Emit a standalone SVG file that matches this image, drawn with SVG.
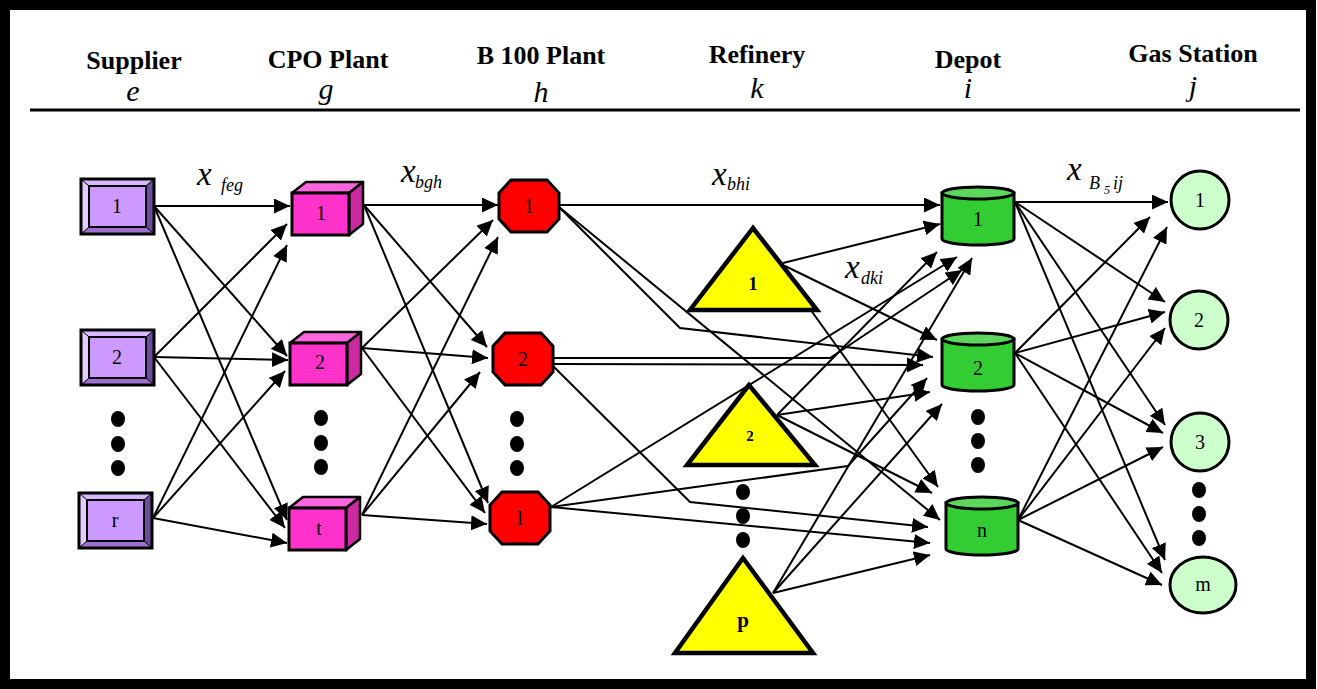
<svg xmlns="http://www.w3.org/2000/svg" width="1317" height="689" viewBox="0 0 1317 689">
  <style>
    text{font-family:"Liberation Serif","Times New Roman",Times,"DejaVu Serif",serif;fill:#000}
    .hdr{font-weight:bold;font-size:26px;text-anchor:middle}
    .idx{font-style:italic;font-size:30px;text-anchor:middle}
    .var{font-style:italic;font-size:33px}
    .sub{font-style:italic;font-size:18px}
    .sub2{font-style:italic;font-size:12px}
    .lbl{font-size:20px;text-anchor:middle}
    .blbl{font-weight:bold;font-size:18px;text-anchor:middle}
    .edge{fill:none;stroke:#000;stroke-width:2;stroke-linejoin:miter;marker-end:url(#arrow)}
    .dot{fill:#000}
    .tri{fill:#FFFF00;stroke:#000;stroke-width:4.5;stroke-linejoin:miter}
    .oct{fill:#FF0000;stroke:#000;stroke-width:3}
    .gas{fill:#CCFFCC;stroke:#000;stroke-width:3}
  </style>
  <defs>
    <marker id="arrow" markerUnits="userSpaceOnUse" markerWidth="17" markerHeight="15" refX="16" refY="7.5" orient="auto">
      <path d="M0,0 L16,7.5 L0,15 Z" fill="#000"/>
    </marker>
    <!-- bevelled supplier box, origin at outer top-left -->
    <g id="bevelBox">
      <rect x="0" y="0" width="73" height="55" fill="#6B4C9A"/>
      <polygon points="0,0 73,0 65,7 8,7" fill="#D9B8FF"/>
      <polygon points="0,0 8,7 8,48 0,55" fill="#E4CCFF"/>
      <polygon points="73,0 65,7 65,48 73,55" fill="#6B4C9A"/>
      <polygon points="0,55 8,48 65,48 73,55" fill="#9E70D2"/>
      <rect x="8" y="7" width="57" height="41" fill="#CC99FF" stroke="#000" stroke-width="2"/>
      <path d="M0,0 L8,7 M73,0 L65,7 M0,55 L8,48 M73,55 L65,48" stroke="#000" stroke-width="1"/>
      <rect x="0" y="0" width="73" height="55" fill="none" stroke="#000" stroke-width="3"/>
    </g>
    <!-- CPO plant cube, origin at front-face top-left -->
    <g id="cube">
      <polygon points="0,0 14,-11 71,-11 57,0" fill="#FF66DD" stroke="#000" stroke-width="2.5" stroke-linejoin="round"/>
      <polygon points="57,0 71,-11 71,31 57,42" fill="#CC2AA0" stroke="#000" stroke-width="2.5" stroke-linejoin="round"/>
      <rect x="0" y="0" width="57" height="42" fill="#FF33CC" stroke="#000" stroke-width="3"/>
    </g>
    <!-- B100 plant octagon, centred -->
    <polygon id="octagon" class="oct" points="-18,-26 18,-26 30,-13 30,13 18,26 -18,26 -30,13 -30,-13"/>
    <!-- depot cylinder, origin at centre of top ellipse -->
    <g id="cylinder">
      <path d="M-36,0 L-36,46 A36,6 0 0 0 36,46 L36,0 Z" fill="#33CC33" stroke="#000" stroke-width="3"/>
      <ellipse cx="0" cy="0" rx="36" ry="6" fill="#5CD65C" stroke="#000" stroke-width="3"/>
    </g>
  </defs>

  <!-- page and frame -->
  <rect x="0" y="0" width="1317" height="689" fill="#fff"/>
  <rect x="5" y="5" width="1306" height="679" fill="none" stroke="#000" stroke-width="10"/>

  <!-- column headings -->
  <g id="headings">
    <text class="hdr" x="134" y="69">Supplier</text>
    <text class="idx" x="133" y="101">e</text>
    <text class="hdr" x="328" y="68">CPO Plant</text>
    <text class="idx" x="326" y="99">g</text>
    <text class="hdr" x="541" y="64">B 100 Plant</text>
    <text class="idx" x="541" y="102">h</text>
    <text class="hdr" x="757" y="63">Refinery</text>
    <text class="idx" x="757" y="98">k</text>
    <text class="hdr" x="968" y="68">Depot</text>
    <text class="idx" x="968" y="98">i</text>
    <text class="hdr" x="1193" y="62">Gas Station</text>
    <text class="idx" x="1193" y="96">j</text>
    <line x1="30" y1="110" x2="1300" y2="110" stroke="#000" stroke-width="3"/>
  </g>

  <!-- flow arcs -->
  <g id="connectors">
    <!-- supplier to CPO plant -->
    <line class="edge" x1="154" y1="206" x2="290" y2="206"/>
    <line class="edge" x1="154" y1="206" x2="287" y2="356"/>
    <line class="edge" x1="154" y1="206" x2="287" y2="520"/>
    <line class="edge" x1="154" y1="357" x2="287" y2="224"/>
    <line class="edge" x1="154" y1="357" x2="288" y2="360"/>
    <line class="edge" x1="154" y1="357" x2="285" y2="528"/>
    <line class="edge" x1="153" y1="518" x2="287" y2="245"/>
    <line class="edge" x1="153" y1="518" x2="285" y2="371"/>
    <line class="edge" x1="153" y1="518" x2="287" y2="543"/>
    <!-- CPO plant to B100 plant -->
    <line class="edge" x1="364" y1="205" x2="498" y2="205"/>
    <line class="edge" x1="364" y1="205" x2="487" y2="347"/>
    <line class="edge" x1="364" y1="205" x2="488" y2="503"/>
    <line class="edge" x1="362" y1="348" x2="493" y2="220"/>
    <line class="edge" x1="362" y1="348" x2="488" y2="358"/>
    <line class="edge" x1="362" y1="348" x2="485" y2="513"/>
    <line class="edge" x1="362" y1="515" x2="498" y2="237"/>
    <line class="edge" x1="362" y1="515" x2="480" y2="372"/>
    <line class="edge" x1="362" y1="515" x2="487" y2="524"/>
    <!-- B100 plant to depot -->
    <line class="edge" x1="559" y1="205" x2="940" y2="205"/>
    <polyline class="edge" points="559,207 680,328 933,357"/>
    <line class="edge" x1="559" y1="207" x2="940" y2="520"/>
    <polyline class="edge" points="553,358 830,358 962,270"/>
    <line class="edge" x1="553" y1="364" x2="923" y2="365"/>
    <polyline class="edge" points="553,366 690,502 928,527"/>
    <line class="edge" x1="551" y1="507" x2="957" y2="257"/>
    <polyline class="edge" points="551,507 848,466 927,378"/>
    <line class="edge" x1="551" y1="507" x2="930" y2="543"/>
    <!-- refinery to depot -->
    <line class="edge" x1="783" y1="263" x2="940" y2="224"/>
    <line class="edge" x1="785" y1="266" x2="937" y2="340"/>
    <line class="edge" x1="805" y1="302" x2="938" y2="487"/>
    <line class="edge" x1="777" y1="415" x2="937" y2="252"/>
    <line class="edge" x1="777" y1="415" x2="930" y2="392"/>
    <line class="edge" x1="777" y1="415" x2="932" y2="493"/>
    <line class="edge" x1="773" y1="593" x2="972" y2="258"/>
    <line class="edge" x1="773" y1="593" x2="942" y2="404"/>
    <line class="edge" x1="773" y1="593" x2="930" y2="555"/>
    <!-- depot to gas station -->
    <line class="edge" x1="1015" y1="202" x2="1168" y2="202"/>
    <line class="edge" x1="1015" y1="202" x2="1165" y2="302"/>
    <line class="edge" x1="1015" y1="202" x2="1165" y2="425"/>
    <line class="edge" x1="1015" y1="202" x2="1165" y2="560"/>
    <line class="edge" x1="1015" y1="353" x2="1150" y2="217"/>
    <line class="edge" x1="1015" y1="353" x2="1165" y2="312"/>
    <line class="edge" x1="1015" y1="353" x2="1163" y2="433" stroke-width="1.5"/>
    <line class="edge" x1="1015" y1="353" x2="1162" y2="573" stroke-width="1.5"/>
    <line class="edge" x1="1018" y1="520" x2="1167" y2="227"/>
    <line class="edge" x1="1018" y1="520" x2="1165" y2="328"/>
    <line class="edge" x1="1018" y1="520" x2="1163" y2="447"/>
    <line class="edge" x1="1018" y1="520" x2="1162" y2="585"/>
  </g>

  <!-- flow variable labels -->
  <g id="flow-labels">
    <text class="var" x="197" y="185">x</text><text class="sub" x="221" y="191">feg</text>
    <text class="var" x="401" y="182">x</text><text class="sub" x="415" y="188">bgh</text>
    <text class="var" x="712" y="185">x</text><text class="sub" x="727" y="190">bhi</text>
    <text class="var" x="845" y="278">x</text><text class="sub" x="861" y="284">dki</text>
    <text class="var" x="1067" y="180">x</text><text class="sub" x="1089" y="189">B</text><text class="sub2" x="1104" y="194">5</text><text class="sub" x="1113" y="189">ij</text>
  </g>

  <!-- suppliers -->
  <g id="supplier-1"><use href="#bevelBox" x="81" y="179"/><text class="lbl" x="117" y="213">1</text></g>
  <g id="supplier-2"><use href="#bevelBox" x="81" y="330"/><text class="lbl" x="117" y="364">2</text></g>
  <g id="supplier-r"><use href="#bevelBox" x="79" y="493"/><text class="lbl" x="115" y="527">r</text></g>
  <g id="supplier-dots">
    <ellipse class="dot" cx="118" cy="419" rx="7" ry="8"/>
    <ellipse class="dot" cx="118" cy="444" rx="7" ry="8"/>
    <ellipse class="dot" cx="118" cy="468" rx="7" ry="8"/>
  </g>

  <!-- CPO plants -->
  <g id="cpo-1"><use href="#cube" x="292" y="193"/><text class="lbl" x="321" y="220">1</text></g>
  <g id="cpo-2"><use href="#cube" x="290" y="343"/><text class="lbl" x="320" y="369">2</text></g>
  <g id="cpo-t"><use href="#cube" x="289" y="508"/><text class="lbl" x="319" y="535">t</text></g>
  <g id="cpo-dots">
    <ellipse class="dot" cx="321" cy="418" rx="7" ry="8"/>
    <ellipse class="dot" cx="321" cy="443" rx="7" ry="8"/>
    <ellipse class="dot" cx="321" cy="467" rx="7" ry="8"/>
  </g>

  <!-- B100 plants -->
  <g id="b100-1"><use href="#octagon" x="529" y="206"/><text class="lbl" x="529" y="213">1</text></g>
  <g id="b100-2"><use href="#octagon" x="523" y="359"/><text class="lbl" x="523" y="366">2</text></g>
  <g id="b100-l"><use href="#octagon" x="520" y="518"/><text class="lbl" x="520" y="525">l</text></g>
  <g id="b100-dots">
    <ellipse class="dot" cx="517" cy="419" rx="7" ry="8"/>
    <ellipse class="dot" cx="517" cy="444" rx="7" ry="8"/>
    <ellipse class="dot" cx="517" cy="468" rx="7" ry="8"/>
  </g>

  <!-- refineries -->
  <g id="refinery-1"><polygon class="tri" points="753,228 690,310 817,310"/><text class="blbl" x="753" y="290">1</text></g>
  <g id="refinery-2"><polygon class="tri" points="749,385 687,465 815,465"/><text class="blbl" x="750" y="441" style="font-size:15px">2</text></g>
  <g id="refinery-p"><polygon class="tri" points="743,558 675,653 813,653"/><text class="blbl" x="743" y="627" style="font-size:21px">p</text></g>
  <g id="refinery-dots">
    <ellipse class="dot" cx="743" cy="492" rx="7" ry="8"/>
    <ellipse class="dot" cx="743" cy="516" rx="7" ry="8"/>
    <ellipse class="dot" cx="743" cy="540" rx="7" ry="8"/>
  </g>

  <!-- depots -->
  <g id="depot-1"><use href="#cylinder" x="978" y="193"/><text class="lbl" x="978" y="226">1</text></g>
  <g id="depot-2"><use href="#cylinder" x="978" y="339"/><text class="lbl" x="978" y="375">2</text></g>
  <g id="depot-n"><use href="#cylinder" x="982" y="503"/><text class="lbl" x="982" y="537">n</text></g>
  <g id="depot-dots">
    <ellipse class="dot" cx="978" cy="417" rx="7" ry="8"/>
    <ellipse class="dot" cx="978" cy="441" rx="7" ry="8"/>
    <ellipse class="dot" cx="978" cy="465" rx="7" ry="8"/>
  </g>

  <!-- gas stations -->
  <g id="gas-1"><circle class="gas" cx="1200" cy="200" r="29"/><text class="lbl" x="1200" y="207">1</text></g>
  <g id="gas-2"><circle class="gas" cx="1199" cy="320" r="29"/><text class="lbl" x="1199" y="327">2</text></g>
  <g id="gas-3"><circle class="gas" cx="1200" cy="442" r="29"/><text class="lbl" x="1200" y="449">3</text></g>
  <g id="gas-m"><ellipse class="gas" cx="1203" cy="585" rx="33" ry="28"/><text class="lbl" x="1203" y="591">m</text></g>
  <g id="gas-dots">
    <ellipse class="dot" cx="1199" cy="490" rx="7" ry="8"/>
    <ellipse class="dot" cx="1199" cy="514" rx="7" ry="8"/>
    <ellipse class="dot" cx="1199" cy="538" rx="7" ry="8"/>
  </g>
</svg>
